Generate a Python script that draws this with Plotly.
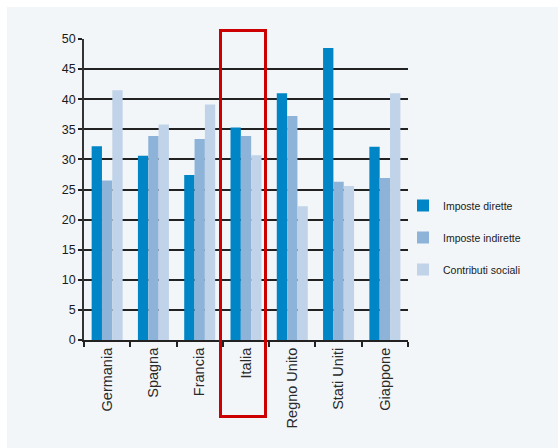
import plotly.graph_objects as go

categories = ["Germania", "Spagna", "Francia", "Italia", "Regno Unito", "Stati Uniti", "Giappone"]
imposte_dirette = [32.2, 30.6, 27.4, 35.3, 41.0, 48.5, 32.1]
imposte_indirette = [26.5, 33.9, 33.4, 33.9, 37.2, 26.3, 26.9]
contributi_sociali = [41.5, 35.8, 39.1, 30.7, 22.2, 25.6, 41.0]
series_names = ["Imposte dirette", "Imposte indirette", "Contributi sociali"]
y_ticks = [0, 5, 10, 15, 20, 25, 30, 35, 40, 45, 50]

colors = ["#0086c6", "#8db3d9", "#c0d3e8"]
W, H = 558, 448
L, R, T, B = 84, 408, 39, 340  # plot area in pixels

def px(x):
    return (x - L) / (R - L)

def py(y):
    return (B - y) / (B - T)

fig = go.Figure()
for i, (name, vals) in enumerate(zip(series_names, [imposte_dirette, imposte_indirette, contributi_sociali])):
    fig.add_trace(go.Bar(x=categories, y=vals, name=name, marker=dict(color=colors[i], line=dict(width=0)),
                         legendgroup=f"g{i}"))

regular = "Liberation Sans, Arial, sans-serif"
fig.update_layout(
    width=W, height=H,
    margin=dict(l=L, r=W - R, t=T, b=H - B, pad=0),
    paper_bgcolor="white",
    plot_bgcolor="rgba(0,0,0,0)",
    barmode="group",
    bargap=0.33,
    bargroupgap=0,
    font=dict(family=regular, color="#222", size=11),
    legend=dict(x=px(403), xanchor="left", y=py(191), yanchor="top",
                font=dict(family=regular, size=10.5, color="#1a1a1a"),
                tracegroupgap=13, bgcolor="rgba(0,0,0,0)"),
    showlegend=True,
    xaxis=dict(showline=True, linecolor="#222", linewidth=2, ticks="outside", tickson="boundaries",
               ticklen=5, tickcolor="#222", tickwidth=1.5, tickangle=-90, showgrid=False,
               tickfont=dict(family=regular, size=14.5, color="#2a2a2a")),
    yaxis=dict(range=[0, 50], tickvals=y_ticks, showline=True, linecolor="#333", linewidth=1.5,
               ticks="outside", ticklen=4, tickcolor="#222", tickwidth=1.5,
               showgrid=True, gridcolor="#222", gridwidth=1.6, zeroline=False,
               tickfont=dict(family=regular, size=12.5, color="#1a1a1a")),
    shapes=[
        dict(type="rect", xref="paper", yref="paper", x0=px(7), x1=px(W + 2), y0=py(H + 2), y1=py(7),
             fillcolor="#f3f6f9", line=dict(width=0), layer="below"),
        dict(type="rect", xref="paper", yref="paper", x0=px(220.5), x1=px(265.5), y0=py(416.5), y1=py(30.5),
             line=dict(color="#cc0000", width=3), fillcolor="rgba(0,0,0,0)", layer="above"),
    ],
)
fig.write_html("out.html")
